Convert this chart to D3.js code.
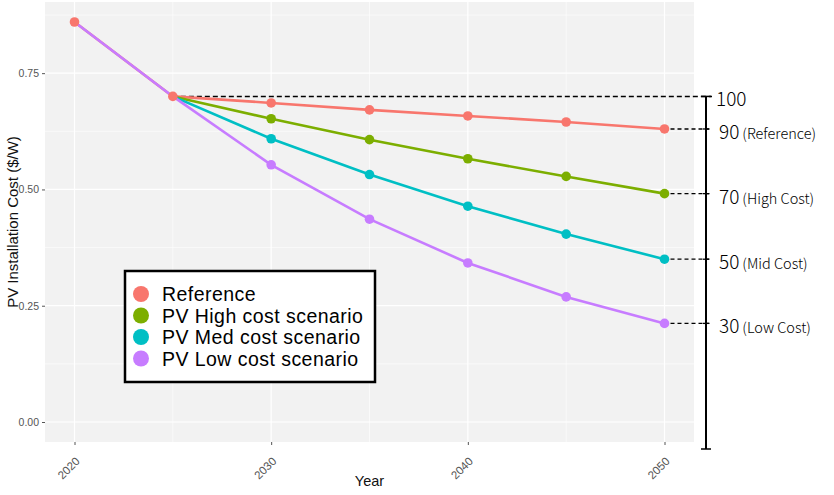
<!DOCTYPE html>
<html>
<head>
<meta charset="utf-8">
<script src="https://cdn.jsdelivr.net/npm/d3@7"></script>
<style>
  html, body { margin: 0; padding: 0; background: #ffffff; }
  svg { display: block; }
</style>
</head>
<body>
<script>
const years = [2020, 2025, 2030, 2035, 2040, 2045, 2050];
const seriesNames = ["Reference", "PV High cost scenario", "PV Med cost scenario", "PV Low cost scenario"];
const referenceValues = [0.86, 0.70, 0.686, 0.671, 0.658, 0.645, 0.630];
const highValues = [null, 0.70, 0.652, 0.607, 0.566, 0.528, 0.491];
const medValues = [null, 0.70, 0.609, 0.532, 0.464, 0.404, 0.350];
const lowValues = [0.86, 0.70, 0.553, 0.436, 0.342, 0.269, 0.212];
const seriesColors = ["#F8766D", "#7CAE00", "#00BFC4", "#C77CFF"];
const yTicks = [0, 0.25, 0.50, 0.75];
const xTicks = [2020, 2030, 2040, 2050];
const indexBase = 100;
const indexLabels = [
  { num: "90", text: "(Reference)" },
  { num: "70", text: "(High Cost)" },
  { num: "50", text: "(Mid Cost)" },
  { num: "30", text: "(Low Cost)" }
];

const W = 834, H = 495;
const SANS = "'Liberation Sans', Arial, sans-serif";
const KR = "'Noto Sans CJK KR', 'Noto Sans', sans-serif";
const svg = d3.select("body").append("svg").attr("width", W).attr("height", H);

const panel = { left: 45, right: 694, top: 2, bottom: 442 };
const x = d3.scaleLinear().domain([2018.5, 2051.5]).range([panel.left, panel.right]);
const y = d3.scaleLinear().domain([-0.043, 0.903]).range([panel.bottom, panel.top]);

// panel background
svg.append("rect").attr("x", panel.left).attr("y", panel.top)
  .attr("width", panel.right - panel.left).attr("height", panel.bottom - panel.top)
  .attr("fill", "#F2F2F2");

// grid
const yMinor = [0.125, 0.375, 0.625, 0.875];
const xMinor = [2025, 2035, 2045];
const grid = svg.append("g");
yMinor.forEach(v => grid.append("line").attr("x1", panel.left).attr("x2", panel.right)
  .attr("y1", y(v)).attr("y2", y(v)).attr("stroke", "#fff").attr("stroke-width", 0.6));
xMinor.forEach(v => grid.append("line").attr("y1", panel.top).attr("y2", panel.bottom)
  .attr("x1", x(v)).attr("x2", x(v)).attr("stroke", "#fff").attr("stroke-width", 0.6));
yTicks.forEach(v => grid.append("line").attr("x1", panel.left).attr("x2", panel.right)
  .attr("y1", y(v)).attr("y2", y(v)).attr("stroke", "#fff").attr("stroke-width", 1.2));
xTicks.forEach(v => grid.append("line").attr("y1", panel.top).attr("y2", panel.bottom)
  .attr("x1", x(v)).attr("x2", x(v)).attr("stroke", "#fff").attr("stroke-width", 1.2));

// y axis
const yAxis = d3.axisLeft(y).tickValues(yTicks).tickFormat(d3.format(".2f")).tickSize(3).tickPadding(3);
const gy = svg.append("g").attr("transform", `translate(${panel.left},0)`).call(yAxis);
gy.select(".domain").remove();
gy.selectAll("line").attr("stroke", "#555");
gy.selectAll("text").attr("fill", "#555").style("font-family", SANS).style("font-size", "10.5px");

// x axis (ticks via axis, labels rotated)
const xAxis = d3.axisBottom(x).tickValues(xTicks).tickFormat("").tickSize(3);
const gx = svg.append("g").attr("transform", `translate(0,${panel.bottom})`).call(xAxis);
gx.select(".domain").remove();
gx.selectAll("line").attr("stroke", "#555");
xTicks.forEach(v => {
  svg.append("text")
    .attr("transform", `translate(${x(v) + 6},${panel.bottom + 20}) rotate(-45)`)
    .attr("text-anchor", "end")
    .style("font-family", SANS).style("font-size", "11.5px").attr("fill", "#555")
    .text(d3.format("d")(v));
});

// axis titles
svg.append("text").attr("x", (panel.left + panel.right) / 2).attr("y", 486)
  .attr("text-anchor", "middle").style("font-family", SANS)
  .style("font-size", "14.5px").attr("fill", "#111").text("Year");
svg.append("text").attr("transform", `translate(18,${(panel.top + panel.bottom) / 2}) rotate(-90)`)
  .attr("text-anchor", "middle").style("font-family", SANS)
  .style("font-size", "15px").attr("fill", "#111").text("PV Installation Cost ($/W)");

// dashed 100 line
const baseY = y(referenceValues[1]);
const bracketX = 706;
svg.append("line").attr("x1", x(2025)).attr("x2", bracketX + 6).attr("y1", baseY).attr("y2", baseY)
  .attr("stroke", "#000").attr("stroke-width", 1.5).attr("stroke-dasharray", "5,3");

// lines
const allSeries = [referenceValues, highValues, medValues, lowValues];
const line = d3.line().defined(d => d.v !== null).x(d => x(d.year)).y(d => y(d.v));
allSeries.forEach((vals, i) => {
  const pts = years.map((yr, j) => ({ year: yr, v: vals[j] }));
  svg.append("path").datum(pts).attr("d", line).attr("fill", "none")
    .attr("stroke", seriesColors[i]).attr("stroke-width", 2.6);
});
// points (scenarios first, reference on top)
[1, 2, 3, 0].forEach(i => {
  const vals = allSeries[i];
  const pts = years.map((yr, j) => ({ year: yr, v: vals[j] }))
    .filter(d => d.v !== null && (i === 0 || d.year >= 2030));
  svg.append("g").selectAll("circle").data(pts).join("circle")
    .attr("cx", d => x(d.year)).attr("cy", d => y(d.v)).attr("r", 4.8)
    .attr("fill", seriesColors[i]);
});

// right index bracket
const bracketBottom = 449;
svg.append("line").attr("x1", bracketX).attr("x2", bracketX).attr("y1", baseY).attr("y2", bracketBottom)
  .attr("stroke", "#000").attr("stroke-width", 2);
[baseY, bracketBottom].forEach(v => svg.append("line").attr("x1", bracketX - 5).attr("x2", bracketX + 5)
  .attr("y1", v).attr("y2", v).attr("stroke", "#000").attr("stroke-width", 1.5));
svg.append("text").attr("x", 716).attr("y", baseY + 10)
  .style("font-family", KR).style("font-size", "19px").style("font-weight", 300)
  .attr("fill", "#000").text(String(indexBase));

const endVals = [referenceValues[6], highValues[6], medValues[6], lowValues[6]];
endVals.forEach((v, i) => {
  const yy = y(v);
  svg.append("line").attr("x1", x(2050) + 6).attr("x2", bracketX + 4).attr("y1", yy).attr("y2", yy)
    .attr("stroke", "#000").attr("stroke-width", 1.3).attr("stroke-dasharray", "4,3");
  svg.append("line").attr("x1", bracketX - 3).attr("x2", bracketX + 3).attr("y1", yy).attr("y2", yy)
    .attr("stroke", "#000").attr("stroke-width", 1.3);
  const t = svg.append("text").attr("x", 719).attr("y", yy + 10)
    .style("font-family", KR).style("font-weight", 300).attr("fill", "#000");
  t.append("tspan").style("font-size", "19px").text(indexLabels[i].num);
  t.append("tspan").attr("dx", 3).style("font-size", "14.5px").text(indexLabels[i].text);
});

// legend
const lg = svg.append("g");
lg.append("rect").attr("x", 125).attr("y", 271).attr("width", 250).attr("height", 111)
  .attr("fill", "#fff").attr("stroke", "#000").attr("stroke-width", 2.5);
seriesNames.forEach((name, i) => {
  const cy = 294 + i * 21.5;
  lg.append("circle").attr("cx", 141).attr("cy", cy).attr("r", 8).attr("fill", seriesColors[i]);
  lg.append("text").attr("x", 162).attr("y", cy + 7)
    .style("font-family", SANS).style("font-size", "19.5px").style("letter-spacing", "0.45px")
    .attr("fill", "#000").text(name);
});
</script>
</body>
</html>
